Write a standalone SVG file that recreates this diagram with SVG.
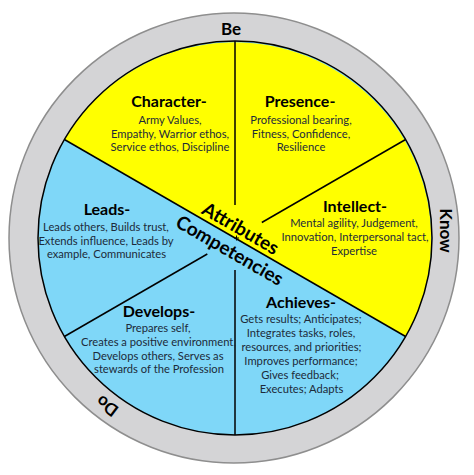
<svg xmlns="http://www.w3.org/2000/svg" width="474" height="475" viewBox="0 0 474 475">
<style>
.h{font-family:Lato,"Liberation Sans",sans-serif;font-weight:bold;font-size:16px;fill:#000;text-anchor:middle}
.b{font-family:Lato,"Liberation Sans",sans-serif;font-size:11.2px;fill:#1d2b3a;text-anchor:middle}
.r{font-family:Lato,"Liberation Sans",sans-serif;font-weight:bold;font-size:17px;fill:#000;text-anchor:middle}
.c{font-family:Lato,"Liberation Sans",sans-serif;font-weight:bold;font-size:19px;fill:#000;text-anchor:middle}
.ln{stroke:#000;stroke-width:1.5;fill:none}
</style>
<rect width="474" height="475" fill="#fff"/>
<g id="ring">
<circle cx="234" cy="238" r="225" fill="#d4d4d6" stroke="#8e8e8e" stroke-width="1.5"/>
<text class="r" x="231" y="35">Be</text>
<text class="r" transform="translate(446 230.5) rotate(90)" y="6">Know</text>
<text class="r" transform="translate(107 406) rotate(217)" y="6">Do</text>
</g>
<g id="pie">
<circle cx="235" cy="238" r="197" fill="#7fd7f8"/>
<path d="M64.4 139.5 A197 197 0 0 1 405.6 336.5 Z" fill="#ffff00"/>
<circle cx="235" cy="238" r="197" fill="none" stroke="#000" stroke-width="1.5"/>
</g>
<g id="connectors">
<line class="ln" x1="235" y1="41" x2="235" y2="205"/>
<line class="ln" x1="235" y1="270" x2="235" y2="435"/>
<line class="ln" x1="261.8" y1="222.5" x2="405.6" y2="139.5"/>
<line class="ln" x1="207.3" y1="254" x2="64.4" y2="336.5"/>
<line class="ln" x1="64.4" y1="139.5" x2="405.6" y2="336.5"/>
<path d="M236.5 235.5 v5 M234 238 h5" stroke="#000" stroke-width="1"/>
</g>
<g id="character">
<text class="h" x="169" y="107">Character-</text>
<text class="b" x="170" y="123.5">Army Values,</text>
<text class="b" x="170" y="137.5">Empathy, Warrior ethos,</text>
<text class="b" x="170" y="151">Service ethos, Discipline</text>
</g>
<g id="presence">
<text class="h" x="300" y="107">Presence-</text>
<text class="b" x="301" y="123.5">Professional bearing,</text>
<text class="b" x="301" y="137.5">Fitness, Confidence,</text>
<text class="b" x="301" y="151">Resilience</text>
</g>
<g id="intellect">
<text class="h" x="355" y="212">Intellect-</text>
<text class="b" x="354" y="227">Mental agility, Judgement,</text>
<text class="b" x="355" y="241">Innovation, Interpersonal tact,</text>
<text class="b" x="354" y="255">Expertise</text>
</g>
<g id="leads">
<text class="h" x="107" y="215">Leads-</text>
<text class="b" x="106" y="231">Leads others, Builds trust,</text>
<text class="b" x="106" y="245">Extends influence, Leads by</text>
<text class="b" x="106.5" y="258">example, Communicates</text>
</g>
<g id="develops">
<text class="h" x="159" y="317">Develops-</text>
<text class="b" x="158" y="332">Prepares self,</text>
<text class="b" x="158.5" y="346">Creates a positive environment,</text>
<text class="b" x="158" y="360">Develops others, Serves as</text>
<text class="b" x="159" y="373">stewards of the Profession</text>
</g>
<g id="achieves">
<text class="h" x="301" y="308">Achieves-</text>
<text class="b" x="301" y="323">Gets results; Anticipates;</text>
<text class="b" x="301" y="337">Integrates tasks, roles,</text>
<text class="b" x="301.5" y="350.5">resources, and priorities;</text>
<text class="b" x="301" y="364.5">Improves performance;</text>
<text class="b" x="300" y="379">Gives feedback;</text>
<text class="b" x="301.5" y="393">Executes; Adapts</text>
</g>
<g id="axis-labels">
<text class="c" transform="translate(235 238) rotate(30)" x="0" y="-4.5">Attributes</text>
<text class="c" transform="translate(235 238) rotate(30)" x="1.5" y="20">Competencies</text>
</g>
</svg>
